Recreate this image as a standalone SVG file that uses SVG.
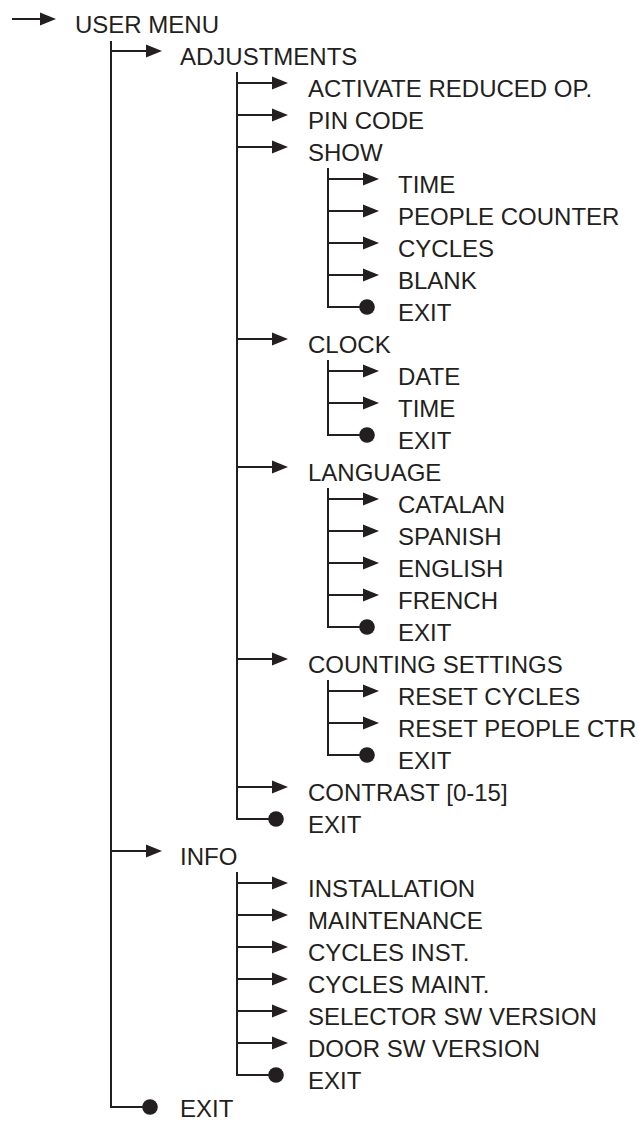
<svg xmlns="http://www.w3.org/2000/svg" width="639" height="1121" viewBox="0 0 639 1121">
<defs>
<style>
.c{fill:none;stroke:#231f20;stroke-width:2;stroke-linejoin:miter}
.a{marker-end:url(#arr)}
.d{marker-end:url(#dot)}
text{font-family:"Liberation Sans",Arial,Helvetica,sans-serif;font-size:24px;fill:#231f20}
</style>
<marker id="arr" markerUnits="userSpaceOnUse" markerWidth="17" markerHeight="14" viewBox="0 0 17 14" refX="1" refY="7" orient="auto" overflow="visible"><path d="M0,0.5 L16,7 L0,13.5 Z" fill="#231f20"/></marker>
<marker id="dot" markerUnits="userSpaceOnUse" markerWidth="16" markerHeight="16" viewBox="0 0 16 16" refX="8" refY="8" orient="auto" overflow="visible"><circle cx="8" cy="8" r="7.8" fill="#231f20"/></marker>
</defs>
<rect width="639" height="1121" fill="#ffffff"/>
<g id="connectors">
<path class="c a" d="M12,19 H41"/>
<path class="c d" d="M111,41 V1107 H150"/>
<path class="c a" d="M111,51 H147"/>
<path class="c a" d="M111,851 H147"/>
<path class="c d" d="M237,72 V819 H276"/>
<path class="c a" d="M237,83 H273"/>
<path class="c a" d="M237,115 H273"/>
<path class="c a" d="M237,147 H273"/>
<path class="c a" d="M237,339 H273"/>
<path class="c a" d="M237,467 H273"/>
<path class="c a" d="M237,659 H273"/>
<path class="c a" d="M237,787 H273"/>
<path class="c d" d="M328,168 V307 H367"/>
<path class="c a" d="M328,179 H364"/>
<path class="c a" d="M328,211 H364"/>
<path class="c a" d="M328,243 H364"/>
<path class="c a" d="M328,275 H364"/>
<path class="c d" d="M328,360 V435 H367"/>
<path class="c a" d="M328,371 H364"/>
<path class="c a" d="M328,403 H364"/>
<path class="c d" d="M328,488 V627 H367"/>
<path class="c a" d="M328,499 H364"/>
<path class="c a" d="M328,531 H364"/>
<path class="c a" d="M328,563 H364"/>
<path class="c a" d="M328,595 H364"/>
<path class="c d" d="M328,680 V755 H367"/>
<path class="c a" d="M328,691 H364"/>
<path class="c a" d="M328,723 H364"/>
<path class="c d" d="M237,872 V1075 H276"/>
<path class="c a" d="M237,883 H273"/>
<path class="c a" d="M237,915 H273"/>
<path class="c a" d="M237,947 H273"/>
<path class="c a" d="M237,979 H273"/>
<path class="c a" d="M237,1011 H273"/>
<path class="c a" d="M237,1043 H273"/>
</g>
<g id="n-user-menu"><text x="75" y="33">USER MENU</text></g>
<g id="n-adjustments"><text x="180" y="65">ADJUSTMENTS</text></g>
<g id="n-activate"><text x="308" y="97">ACTIVATE REDUCED OP.</text></g>
<g id="n-pin"><text x="308" y="129">PIN CODE</text></g>
<g id="n-show"><text x="308" y="161">SHOW</text></g>
<g id="n-show-time"><text x="398" y="193">TIME</text></g>
<g id="n-show-people"><text x="398" y="225">PEOPLE COUNTER</text></g>
<g id="n-show-cycles"><text x="398" y="257">CYCLES</text></g>
<g id="n-show-blank"><text x="398" y="289">BLANK</text></g>
<g id="n-show-exit"><text x="398" y="321">EXIT</text></g>
<g id="n-clock"><text x="308" y="353">CLOCK</text></g>
<g id="n-clock-date"><text x="398" y="385">DATE</text></g>
<g id="n-clock-time"><text x="398" y="417">TIME</text></g>
<g id="n-clock-exit"><text x="398" y="449">EXIT</text></g>
<g id="n-language"><text x="308" y="481">LANGUAGE</text></g>
<g id="n-lang-catalan"><text x="398" y="513">CATALAN</text></g>
<g id="n-lang-spanish"><text x="398" y="545">SPANISH</text></g>
<g id="n-lang-english"><text x="398" y="577">ENGLISH</text></g>
<g id="n-lang-french"><text x="398" y="609">FRENCH</text></g>
<g id="n-lang-exit"><text x="398" y="641">EXIT</text></g>
<g id="n-counting"><text x="308" y="673">COUNTING SETTINGS</text></g>
<g id="n-count-reset-cycles"><text x="398" y="705">RESET CYCLES</text></g>
<g id="n-count-reset-people"><text x="398" y="737">RESET PEOPLE CTR</text></g>
<g id="n-count-exit"><text x="398" y="769">EXIT</text></g>
<g id="n-contrast"><text x="308" y="801">CONTRAST [0-15]</text></g>
<g id="n-adj-exit"><text x="308" y="833">EXIT</text></g>
<g id="n-info"><text x="180" y="865">INFO</text></g>
<g id="n-info-installation"><text x="308" y="897">INSTALLATION</text></g>
<g id="n-info-maintenance"><text x="308" y="929">MAINTENANCE</text></g>
<g id="n-info-cycles-inst"><text x="308" y="961">CYCLES INST.</text></g>
<g id="n-info-cycles-maint"><text x="308" y="993">CYCLES MAINT.</text></g>
<g id="n-info-selector"><text x="308" y="1025">SELECTOR SW VERSION</text></g>
<g id="n-info-door"><text x="308" y="1057">DOOR SW VERSION</text></g>
<g id="n-info-exit"><text x="308" y="1089">EXIT</text></g>
<g id="n-exit"><text x="180" y="1117">EXIT</text></g>
</svg>
